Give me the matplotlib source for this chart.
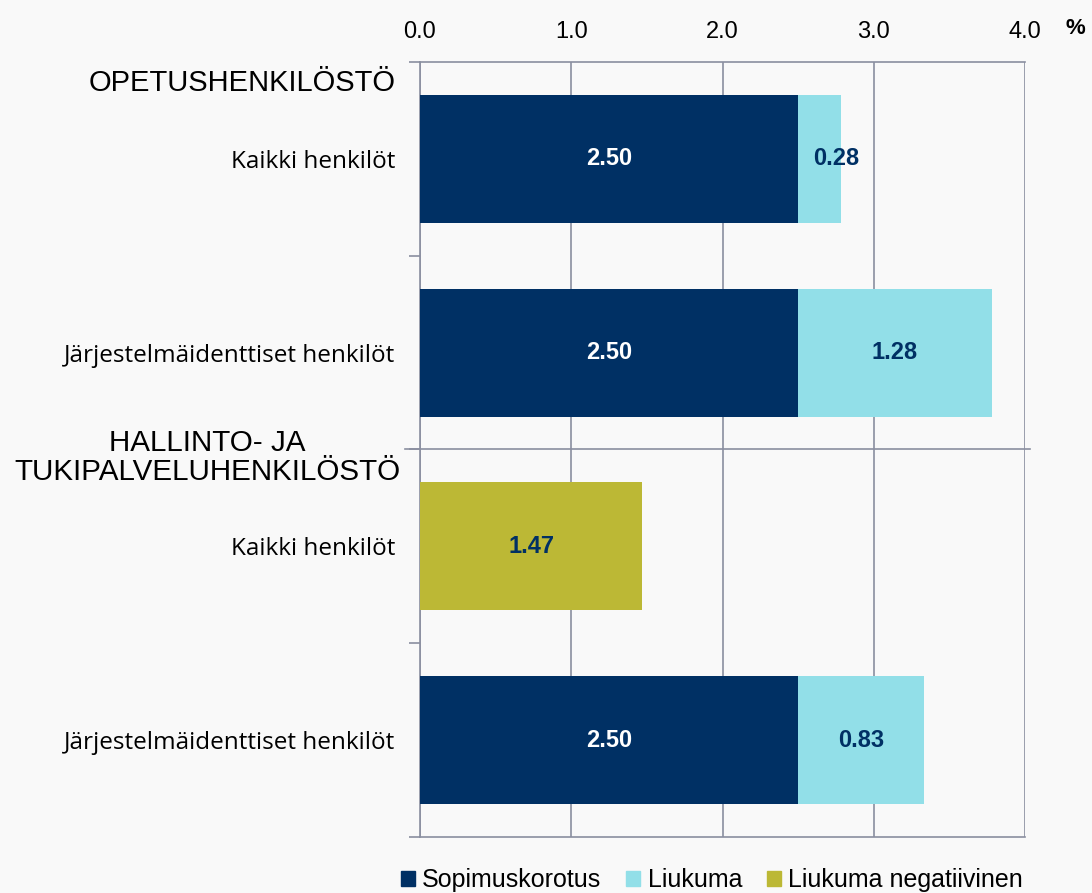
import numpy as np
import matplotlib.pyplot as plt
from matplotlib.patches import Patch

# -----------------------------
# data
# -----------------------------
categories = ['Kaikki henkilöt', 'Järjestelmäidenttiset henkilöt',
              'Kaikki henkilöt', 'Järjestelmäidenttiset henkilöt']
sopimuskorotus = [2.50, 2.50, 0.0, 2.50]
liukuma = [0.28, 1.28, 0.0, 0.83]
liukuma_neg = [0.0, 0.0, 1.47, 0.0]
groups = ['OPETUSHENKILÖSTÖ', 'HALLINTO- JA\nTUKIPALVELUHENKILÖSTÖ']
xticks = [0.0, 1.0, 2.0, 3.0, 4.0]

navy = '#003064'
cyan = '#92DFE8'
olive = '#BCB835'
grid_c = '#8A8FA0'
bg = '#F9F9F9'

plt.rcParams['font.family'] = ['Liberation Sans', 'DejaVu Sans']

fig = plt.figure(figsize=(10.92, 8.93), dpi=100, facecolor=bg)
ax = fig.add_axes([0.3846, 0.0627, 0.5541, 0.8679], facecolor=bg)

y = np.arange(len(categories))
h = 0.66

ax.barh(y, sopimuskorotus, height=h, color=navy, zorder=3)
ax.barh(y, liukuma, left=sopimuskorotus, height=h, color=cyan, zorder=3)
ax.barh(y, liukuma_neg, height=h, color=olive, zorder=3)

# value labels
for i in range(len(categories)):
    if sopimuskorotus[i] > 0:
        ax.text(sopimuskorotus[i] / 2, y[i], f'{sopimuskorotus[i]:.2f}', ha='center', va='center',
                color='white', fontsize=17, fontweight='bold', zorder=4)
    if liukuma[i] > 0:
        x = sopimuskorotus[i] + max(liukuma[i], 0.5) / 2
        ax.text(x, y[i], f'{liukuma[i]:.2f}', ha='center', va='center',
                color=navy, fontsize=17, fontweight='bold', zorder=4)
    if liukuma_neg[i] > 0:
        ax.text(liukuma_neg[i] / 2, y[i], f'{liukuma_neg[i]:.2f}', ha='center', va='center',
                color=navy, fontsize=17, fontweight='bold', zorder=4)

ax.set_xlim(0, 4.0)
ax.set_ylim(3.5, -0.5)

# top axis
ax.xaxis.tick_top()
ax.set_xticks(xticks)
ax.set_xticklabels([f'{t:.1f}' for t in xticks], fontsize=17)
ax.tick_params(axis='x', length=0, pad=14)
ax.grid(axis='x', color=grid_c, linewidth=1.2, zorder=1)
ax.text(4.33, -0.675, '%', fontsize=16, fontweight='bold', ha='center', va='center')

# y axis
ax.set_yticks(y)
ax.set_yticklabels(categories, fontsize=17.5, family=['Open Sans', 'DejaVu Sans'])
ax.set_yticks([-0.5, 0.5, 1.5, 2.5, 3.5], minor=True)
ax.tick_params(axis='y', which='major', length=0, pad=18)
ax.tick_params(axis='y', which='minor', length=8, color=grid_c, width=1.2)

for s in ax.spines.values():
    s.set_color(grid_c)
    s.set_linewidth(1.2)
ax.spines['right'].set_visible(False)

# separator between groups
ax.plot([-0.1, 4.03], [1.5, 1.5], color=grid_c, linewidth=1.2, clip_on=False, zorder=2)

# group headers
ax.text(-0.16, -0.39, groups[0], ha='right', va='center', fontsize=21)
ax.text(-0.13, 1.54, groups[1], ha='right', va='center', fontsize=21.3,
        multialignment='center', linespacing=1.05)

# legend
handles = [Patch(color=navy, label='Sopimuskorotus'),
           Patch(color=cyan, label='Liukuma'),
           Patch(color=olive, label='Liukuma negatiivinen')]
fig.legend(handles=handles, loc='lower center', bbox_to_anchor=(0.652, -0.024), ncol=3,
           frameon=False, handlelength=0.55, handleheight=0.55,
           handletextpad=0.3, columnspacing=1.0,
           prop={'family': ['Liberation Sans', 'DejaVu Sans'], 'size': 18})

fig.savefig('out.png', dpi=100, facecolor=bg)
